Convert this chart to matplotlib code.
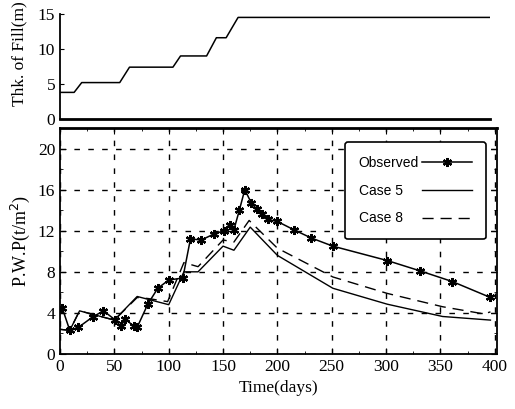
import matplotlib.pyplot as plt
import numpy as np

# fill thickness (m)
fill_t = [0, 13, 20, 55, 64, 104, 111, 135, 144, 153, 164, 396]
fill_h = [3.8, 3.8, 5.2, 5.2, 7.4, 7.4, 9.0, 9.0, 11.6, 11.6, 14.5, 14.5]

# observed pore water pressure
obs_t = [2, 9, 17, 30, 40, 51, 56, 60, 68, 71, 81, 90, 100, 113, 120, 130, 142,
         151, 156, 160, 165, 170, 176, 181, 186, 191, 200, 215, 231, 251, 301,
         331, 361, 396]
obs_p = [4.5, 2.3, 2.6, 3.6, 4.2, 3.3, 2.7, 3.4, 2.7, 2.6, 4.9, 6.4, 7.2, 7.4,
         11.2, 11.1, 11.7, 12.0, 12.6, 12.1, 14.0, 16.0, 14.7, 14.1, 13.6, 13.1,
         12.9, 12.1, 11.3, 10.5, 9.1, 8.1, 7.05, 5.5]

# case 5 (solid)
c5_t = [0, 9, 18, 50, 71, 100, 114, 127, 150, 160, 175, 200, 251, 301, 352, 396]
c5_p = [2.4, 2.3, 4.2, 3.3, 5.6, 4.8, 8.0, 8.0, 10.5, 10.1, 12.35, 9.6, 6.4, 4.85, 3.65, 3.3]

# case 8 (dashed)
c8_t = [0, 9, 18, 50, 71, 81, 99, 114, 127, 150, 160, 174, 200, 251, 301, 352, 390, 396]
c8_p = [2.4, 2.3, 4.2, 3.3, 5.5, 5.4, 5.1, 8.9, 8.5, 11.1, 10.9, 13.0, 10.3, 7.5, 5.9, 4.6, 3.9, 4.1]

plt.rcParams['font.family'] = ['Liberation Serif', 'DejaVu Serif']

fig = plt.figure(figsize=(5.15, 4.09), dpi=100)
ax1 = fig.add_axes([0.1165, 0.709, 0.835, 0.257])
ax2 = fig.add_axes([0.1165, 0.1345, 0.8485, 0.5525])

# top panel: fill thickness
ax1.plot(fill_t, fill_h, 'k-', lw=1.1)
ax1.set_xlim(0, 396)
ax1.set_ylim(0, 15)
ax1.set_yticks([0, 5, 10, 15])
ax1.set_xticks([])
ax1.spines['top'].set_visible(False)
ax1.spines['right'].set_visible(False)
ax1.spines['bottom'].set_linewidth(2)
ax1.spines['left'].set_linewidth(1.3)
ax1.tick_params(axis='y', direction='in', length=3, labelsize=12.5)
ax1.set_ylabel('Thk. of Fill(m)', fontsize=12.5)
ax1.yaxis.set_label_coords(-0.075, 0.62)

# bottom panel: pore water pressure
ax2.plot(obs_t, obs_p, 'k-', lw=1.1, marker=(6, 2, 0), ms=6.5, mew=1.6,
         label='Observed')
ax2.plot(c5_t, c5_p, 'k-', lw=1.0, label='Case 5    ')
ax2.plot(c8_t, c8_p, 'k', lw=1.0, ls=(0, (8, 5)), label='Case 8    ')

ax2.set_xlim(0, 402)
ax2.set_ylim(0, 22)
ax2.set_xticks(np.arange(0, 401, 50))
ax2.set_xticks(np.arange(0, 401, 25), minor=True)
ax2.set_yticks(np.arange(0, 21, 4))
ax2.set_yticks(np.arange(0, 21, 2), minor=True)
ax2.tick_params(which='both', direction='in', top=True, right=True, labelsize=12.5)
ax2.tick_params(which='major', length=4)
ax2.tick_params(which='minor', length=2)
ax2.grid(True, which='major', color='k', ls=(0, (4, 6)), lw=1.0)
for s in ax2.spines.values():
    s.set_linewidth(1.3)
ax2.spines['top'].set_linewidth(2)

ax2.set_xlabel('Time(days)', fontsize=12.5)
ax2.set_ylabel('P.W.P(t/m$^2$)', fontsize=13)

leg = ax2.legend(loc='upper right', bbox_to_anchor=(0.99, 0.97), markerfirst=False,
                 prop={'family': 'Liberation Sans', 'size': 10}, fancybox=True,
                 edgecolor='k', framealpha=1, handlelength=3.6, labelspacing=1.0,
                 borderpad=1.0, handletextpad=0.2)
leg.get_frame().set_linewidth(1.2)

fig.savefig('out.png', dpi=100)
